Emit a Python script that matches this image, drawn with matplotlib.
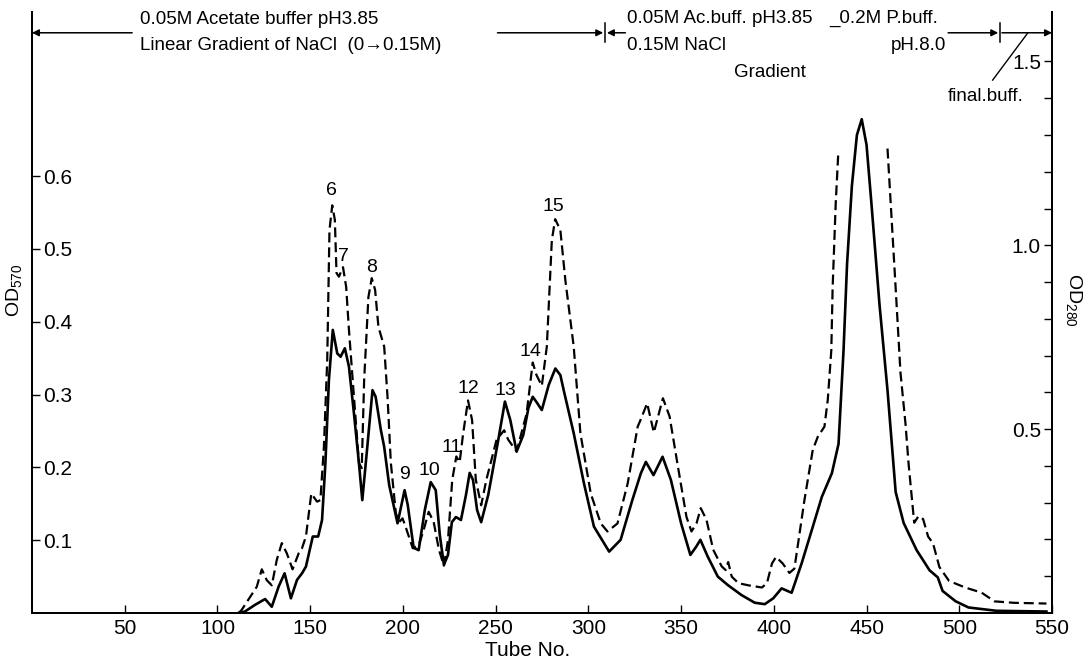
import numpy as np
import matplotlib
matplotlib.use("Agg")
import matplotlib.pyplot as plt

# OD280 trace (solid line, right axis) -- tube number / absorbance
tube_280 = [111.4, 114.8, 120.2, 125.7, 129.3, 133.0, 136.2, 139.6, 142.9, 145.6,
            147.7, 151.4, 154.3, 156.4, 158.2, 160.1, 162.2, 164.6, 166.4, 168.7,
            170.9, 173.6, 176.3, 178.1, 180.8, 183.6, 185.3, 188.1, 189.9, 192.6,
            197.1, 200.9, 202.6, 205.8, 208.5, 211.8, 215.0, 217.7, 219.9, 222.1,
            224.3, 226.4, 228.6, 231.3, 234.0, 236.0, 237.8, 240.0, 242.2, 246.0,
            251.4, 255.0, 257.9, 261.3, 264.9, 267.7, 270.0, 272.0, 274.9, 278.6,
            282.2, 284.9, 286.7, 292.1, 297.6, 303.0, 311.2, 317.4, 323.7, 328.3,
            331.0, 335.1, 340.0, 344.5, 350.0, 355.0, 358.1, 360.4, 364.4, 369.8,
            375.2, 382.5, 389.7, 395.1, 399.7, 404.2, 409.6, 415.0, 420.5, 425.9,
            431.3, 434.9, 437.6, 439.5, 442.1, 444.8, 447.4, 450.0, 452.6, 457.0,
            461.3, 465.7, 470.0, 477.0, 484.0, 488.4, 491.0, 498.0, 505.0, 520.0,
            547.0]
od_280 = [0.000, 0.004, 0.022, 0.038, 0.017, 0.072, 0.108, 0.040, 0.090, 0.108,
          0.126, 0.208, 0.208, 0.253, 0.407, 0.634, 0.770, 0.706, 0.697, 0.720,
          0.670, 0.543, 0.407, 0.307, 0.452, 0.606, 0.588, 0.498, 0.452, 0.348,
          0.244, 0.334, 0.294, 0.177, 0.171, 0.280, 0.356, 0.334, 0.212, 0.131,
          0.158, 0.247, 0.261, 0.253, 0.321, 0.381, 0.362, 0.280, 0.247, 0.321,
          0.470, 0.575, 0.525, 0.439, 0.484, 0.558, 0.588, 0.574, 0.552, 0.620,
          0.665, 0.647, 0.606, 0.489, 0.353, 0.235, 0.167, 0.199, 0.307, 0.380,
          0.411, 0.375, 0.425, 0.362, 0.244, 0.158, 0.180, 0.199, 0.153, 0.099,
          0.076, 0.049, 0.028, 0.024, 0.040, 0.067, 0.055, 0.135, 0.226, 0.316,
          0.380, 0.460, 0.715, 0.950, 1.162, 1.300, 1.343, 1.273, 1.116, 0.838,
          0.606, 0.329, 0.245, 0.171, 0.116, 0.097, 0.060, 0.032, 0.015, 0.006,
          0.004]

# OD570 trace (dashed line, left axis), goes off scale around the big peak
tube_570_a = [111.4, 113.0, 121.2, 123.9, 126.6, 129.3, 132.0, 134.7, 137.4, 140.5,
              143.8, 145.6, 147.7, 150.6, 153.7, 155.5, 157.4, 159.2, 160.4, 161.9,
              163.3, 164.2, 165.5, 167.7, 169.4, 170.9, 173.6, 176.3, 177.8, 179.1,
              181.4, 183.2, 185.0, 186.8, 189.9, 191.7, 193.5, 196.2, 198.0, 199.8,
              201.5, 205.3, 208.5, 211.2, 213.9, 216.6, 219.4, 222.1, 224.3, 226.6,
              228.8, 230.6, 232.4, 235.1, 237.3, 239.3, 242.2, 245.0, 250.5, 254.6,
              256.8, 261.3, 266.7, 270.0, 272.0, 274.9, 277.6, 280.3, 282.1, 284.9,
              287.6, 292.1, 295.7, 301.3, 306.7, 310.3, 315.7, 321.2, 326.6, 328.1,
              331.7, 335.3, 340.2, 343.8, 348.3, 352.9, 355.6, 358.3, 360.6, 363.7,
              367.3, 371.9, 374.0, 375.4, 377.3, 380.9, 386.3, 393.6, 396.3, 399.0,
              401.2, 404.8, 408.4, 411.1, 416.5, 421.0, 423.7, 427.3, 429.1, 431.0,
              431.7, 433.4, 434.8]
od_570_a = [0.000, 0.004, 0.036, 0.060, 0.045, 0.038, 0.073, 0.096, 0.082, 0.060,
            0.082, 0.089, 0.105, 0.164, 0.153, 0.155, 0.228, 0.348, 0.526, 0.560,
            0.540, 0.467, 0.462, 0.475, 0.448, 0.389, 0.297, 0.206, 0.199, 0.320,
            0.434, 0.460, 0.444, 0.393, 0.366, 0.297, 0.206, 0.137, 0.125, 0.130,
            0.118, 0.089, 0.093, 0.114, 0.139, 0.125, 0.087, 0.065, 0.100, 0.183,
            0.215, 0.207, 0.245, 0.292, 0.265, 0.183, 0.148, 0.183, 0.238, 0.251,
            0.238, 0.222, 0.274, 0.344, 0.327, 0.312, 0.366, 0.512, 0.541, 0.526,
            0.457, 0.366, 0.247, 0.164, 0.123, 0.112, 0.123, 0.178, 0.256, 0.265,
            0.288, 0.248, 0.295, 0.270, 0.201, 0.132, 0.112, 0.123, 0.144, 0.128,
            0.087, 0.064, 0.059, 0.070, 0.050, 0.041, 0.038, 0.035, 0.041, 0.068,
            0.077, 0.068, 0.055, 0.061, 0.155, 0.224, 0.242, 0.256, 0.293, 0.361,
            0.446, 0.564, 0.634]
tube_570_b = [461.3, 463.0, 465.7, 468.3, 471.0, 472.7, 475.7, 478.0, 480.5, 483.2,
              485.8, 489.3, 494.5, 503.2, 512.0, 519.0, 529.4, 547.0]
od_570_b = [0.638, 0.564, 0.446, 0.330, 0.260, 0.204, 0.124, 0.133, 0.129, 0.105,
            0.096, 0.063, 0.044, 0.035, 0.028, 0.016, 0.014, 0.013]

# peak numbers (tube, OD570 position of the label)
peak_names = ['6', '7', '8', '9', '10', '11', '12', '13', '14', '15']
peak_tube = [161.5, 167.7, 183.1, 200.8, 214.3, 226.0, 235.1, 255.0, 269.0, 281.1]
peak_od = [0.580, 0.490, 0.475, 0.190, 0.196, 0.228, 0.309, 0.306, 0.359, 0.558]

x_ticks = [50, 100, 150, 200, 250, 300, 350, 400, 450, 500, 550]
left_ticks = [0.1, 0.2, 0.3, 0.4, 0.5, 0.6]
right_major = [0.5, 1.0, 1.5]
right_minor = [0.1, 0.2, 0.3, 0.4, 0.6, 0.7, 0.8, 0.9, 1.1, 1.2, 1.3, 1.4]
phase_bounds = [309, 522]   # tube numbers where the eluent changed

plt.rcParams['font.family'] = ['Liberation Sans', 'DejaVu Sans']
plt.rcParams['mathtext.default'] = 'regular'

fig = plt.figure(figsize=(10.9, 6.64), dpi=100)
ax = fig.add_axes([32 / 1090, 51 / 664, 1020 / 1090, 601 / 664])
ax2 = ax.twinx()

top570 = 601 / 728
ax.set_xlim(0, 550)
ax.set_ylim(0, top570)
ax2.set_ylim(0, top570 * 1.98)

ax2.plot(tube_280, od_280, color='black', lw=1.9, solid_joinstyle='round')
ax.plot(tube_570_a, od_570_a, color='black', lw=1.6, dashes=(4.5, 2.2))
ax.plot(tube_570_b, od_570_b, color='black', lw=1.6, dashes=(4.5, 2.2))

for a in (ax, ax2):
    a.spines['top'].set_visible(False)
    for s in ('left', 'right', 'bottom'):
        a.spines[s].set_linewidth(1.4)

ax.set_xticks(x_ticks)
ax.set_xticklabels([str(t) for t in x_ticks])
ax.tick_params(axis='x', direction='in', length=6, width=1, labelsize=15, pad=4)

ax.set_yticks(left_ticks)
ax.set_yticklabels([f'{v:.1f}' for v in left_ticks])
ax.tick_params(axis='y', direction='in', length=6, width=1, labelsize=15, pad=-8)
for lbl in ax.get_yticklabels():
    lbl.set_horizontalalignment('left')

ax2.set_yticks(right_major)
ax2.set_yticklabels([f'{v:.1f}' for v in right_major])
ax2.set_yticks(right_minor, minor=True)
ax2.tick_params(axis='y', which='both', direction='in', length=6, width=1,
                labelsize=15, pad=-8)
for lbl in ax2.get_yticklabels():
    lbl.set_horizontalalignment('right')

fig.text(528 / 1090, 1 - 650 / 664, 'Tube No.', fontsize=15, ha='center', va='center')
fig.text(14 / 1090, 1 - 290 / 664, 'OD$_{570}$', rotation=90, fontsize=14,
         ha='center', va='center')
fig.text(1074 / 1090, 1 - 300 / 664, 'OD$_{280}$', rotation=-90, fontsize=14,
         ha='center', va='center')

for name, t, v in zip(peak_names, peak_tube, peak_od):
    ax.text(t, v, name, fontsize=14, ha='center', va='center')

# eluent schedule along the top
y_arrow = 0.797
arrow = dict(arrowstyle='-|>', color='black', lw=1.1, mutation_scale=10,
             shrinkA=0, shrinkB=0)
ax.annotate('', xy=(0, y_arrow), xytext=(54, y_arrow), arrowprops=arrow,
            annotation_clip=False)
ax.annotate('', xy=(phase_bounds[0] - 1, y_arrow), xytext=(251, y_arrow),
            arrowprops=arrow, annotation_clip=False)
ax.annotate('', xy=(phase_bounds[0] + 1, y_arrow), xytext=(320, y_arrow),
            arrowprops=arrow, annotation_clip=False)
ax.annotate('', xy=(phase_bounds[1] - 1, y_arrow), xytext=(494, y_arrow),
            arrowprops=arrow, annotation_clip=False)
ax.annotate('', xy=(550, y_arrow), xytext=(phase_bounds[1] + 1, y_arrow),
            arrowprops=arrow, annotation_clip=False)
for b in phase_bounds:
    ax.plot([b, b], [y_arrow - 0.012, y_arrow + 0.014], color='black', lw=1.1,
            clip_on=False)
ax.plot([537, 518], [y_arrow, 0.732], color='black', lw=1.0, clip_on=False)

txt = dict(fontsize=13.5, va='center', clip_on=False)
ax.text(58, 0.815, '0.05M Acetate buffer pH3.85', ha='left', **txt)
ax.text(58, 0.779, 'Linear Gradient of NaCl  (0\u21920.15M)', ha='left', **txt)
ax.text(321, 0.817, '0.05M Ac.buff. pH3.85', ha='left', **txt)
ax.text(321, 0.780, '0.15M NaCl', ha='left', **txt)
ax.text(430, 0.817, '_0.2M P.buff.', ha='left', **txt)
ax.text(493, 0.780, 'pH.8.0', ha='right', **txt)
ax.text(398, 0.742, 'Gradient', ha='center', **txt)
ax.text(514, 0.709, 'final.buff.', ha='center', **txt)

fig.savefig('out.png', dpi=100)
